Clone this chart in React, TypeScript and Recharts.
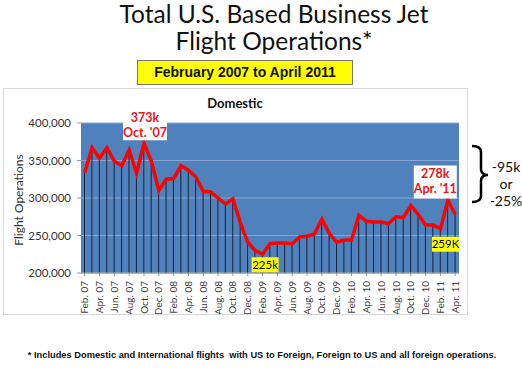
import React from "react";
import {
  Bar,
  CartesianGrid,
  ComposedChart,
  Line,
  ReferenceDot,
  XAxis,
  YAxis,
} from "recharts";

const months = [
  "Feb. 07", "Mar. 07", "Apr. 07", "May. 07", "Jun. 07", "Jul. 07", "Aug. 07", "Sep. 07", "Oct. 07", "Nov. 07", "Dec. 07",
  "Jan. 08", "Feb. 08", "Mar. 08", "Apr. 08", "May. 08", "Jun. 08", "Jul. 08", "Aug. 08", "Sep. 08", "Oct. 08", "Nov. 08", "Dec. 08",
  "Jan. 09", "Feb. 09", "Mar. 09", "Apr. 09", "May. 09", "Jun. 09", "Jul. 09", "Aug. 09", "Sep. 09", "Oct. 09", "Nov. 09", "Dec. 09",
  "Jan. 10", "Feb. 10", "Mar. 10", "Apr. 10", "May. 10", "Jun. 10", "Jul. 10", "Aug. 10", "Sep. 10", "Oct. 10", "Nov. 10", "Dec. 10",
  "Jan. 11", "Feb. 11", "Mar. 11", "Apr. 11",
];

const flightOps = [
  334000, 367000, 353000, 367000, 349000, 343000, 364000, 333000, 373000, 349000, 310000,
  325000, 326000, 343000, 337000, 328000, 309000, 308000, 300000, 292000, 299000, 267000, 241000,
  230000, 225000, 239000, 240000, 240000, 239000, 248000, 249000, 252000, 272000, 253000, 241000,
  244000, 244000, 277000, 269000, 268000, 268000, 266000, 275000, 274000, 290000, 278000, 264000,
  264000, 259000, 297000, 278000,
];

const yTicks = [200000, 250000, 300000, 350000, 400000];

const data = months.map((month, i) => ({ month, ops: flightOps[i] }));

const CAL = "Lato, 'Open Sans', sans-serif";
const ARIAL = "'Liberation Sans', Arial, sans-serif";

function XTick(props: { x?: number; y?: number; payload?: { value: string } }) {
  const { x = 0, y = 0, payload } = props;
  return (
    <text
      x={x}
      y={y}
      transform={`rotate(-90 ${x} ${y})`}
      textAnchor="end"
      dx={-3}
      dy={3.5}
      fontSize={10}
      fontFamily={CAL}
      fill="#404040"
    >
      {payload?.value}
    </text>
  );
}

// white box with red bold text, sitting above a point
function RedNote(props: { viewBox?: any; lines: string[]; dx: number; top: number; w: number; h: number }) {
  const vb = props.viewBox || {};
  const cx = vb.x + vb.width / 2 + props.dx;
  const cy = vb.y + vb.height / 2;
  return (
    <g>
      <rect x={cx - props.w / 2} y={cy + props.top} width={props.w} height={props.h} fill="#fff" />
      {props.lines.map((t, i) => (
        <text
          key={t}
          x={cx}
          y={cy + props.top + 12 + i * 15}
          textAnchor="middle"
          fontSize={12.5}
          fontWeight="bold"
          fontFamily={CAL}
          fill="#e8151b"
        >
          {t}
        </text>
      ))}
    </g>
  );
}

function YellowNote(props: { viewBox?: any; text: string; dx: number; top: number }) {
  const vb = props.viewBox || {};
  const cx = vb.x + vb.width / 2 + props.dx;
  const cy = vb.y + vb.height / 2;
  return (
    <g>
      <rect x={cx - 13.5} y={cy + props.top} width={27} height={15} fill="#ffff00" />
      <text
        x={cx}
        y={cy + props.top + 11.5}
        textAnchor="middle"
        fontSize={11.5}
        fontFamily={CAL}
        fill="#000"
      >
        {props.text}
      </text>
    </g>
  );
}

const titleStyle: React.CSSProperties = {
  position: "absolute",
  left: 0,
  width: 548,
  textAlign: "center",
  fontFamily: CAL,
  fontSize: 24.5,
  lineHeight: "24px",
  color: "#111",
  whiteSpace: "nowrap",
};

export default function App() {
  return (
    <div style={{ position: "absolute", left: 0, top: 0, width: 522, height: 368, background: "#fff", overflow: "hidden" }}>
      <div style={{ ...titleStyle, top: 2 }}>Total U.S. Based Business Jet</div>
      <div style={{ ...titleStyle, top: 29 }}>Flight Operations*</div>
      <div
        style={{
          position: "absolute",
          left: 137,
          top: 60,
          width: 214,
          height: 23,
          background: "#ffff00",
          border: "1px solid #777",
          fontFamily: ARIAL,
          fontWeight: "bold",
          fontSize: 14,
          lineHeight: "23px",
          textAlign: "center",
          color: "#111",
        }}
      >
        February 2007 to April 2011
      </div>
      <div style={{ position: "absolute", left: 3, top: 88, width: 463, height: 225, border: "1px solid #d9d9d9" }} />
      <div style={{ position: "absolute", left: 3, top: 88 }}>
        <ComposedChart width={464} height={226} data={data} margin={{ top: 35, right: 8, left: 18, bottom: 3 }}>
          <CartesianGrid horizontal vertical={false} fill="#4f81bd" stroke="#86a5d2" strokeWidth={1} />
          <XAxis
            dataKey="month"
            interval={1}
            tick={<XTick />}
            height={38}
            tickLine={{ stroke: "#999" }}
            tickSize={3}
            axisLine={{ stroke: "#999" }}
          />
          <YAxis
            domain={[200000, 400000]}
            ticks={yTicks}
            width={60}
            tickFormatter={(v: number) => v.toLocaleString("en-US")}
            tick={{ fontSize: 11.5, fontFamily: CAL, fill: "#333" }}
            tickLine={{ stroke: "#999" }}
            tickSize={4}
            tickMargin={6}
            axisLine={false}
          />
          <Bar dataKey="ops" barSize={1} fill="#1b2235" isAnimationActive={false} />
          <Line type="linear" dataKey="ops" stroke="#ff0000" strokeWidth={3.5} dot={false} isAnimationActive={false} />
          <ReferenceDot
            x="Oct. 07"
            y={373000}
            r={1}
            fill="none"
            stroke="none"
            label={{ content: (p: any) => <RedNote viewBox={p.viewBox} lines={["373k", "Oct. '07"]} dx={1} top={-33} w={44} h={30} /> }}
          />
          <ReferenceDot
            x="Apr. 11"
            y={278000}
            r={1}
            fill="none"
            stroke="none"
            label={{ content: (p: any) => <RedNote viewBox={p.viewBox} lines={["278k", "Apr. '11"]} dx={-20} top={-49} w={43} h={33} /> }}
          />
          <ReferenceDot
            x="Feb. 09"
            y={225000}
            r={1}
            fill="none"
            stroke="none"
            label={{ content: (p: any) => <YellowNote viewBox={p.viewBox} text="225k" dx={2.5} top={3} /> }}
          />
          <ReferenceDot
            x="Feb. 11"
            y={259000}
            r={1}
            fill="none"
            stroke="none"
            label={{ content: (p: any) => <YellowNote viewBox={p.viewBox} text="259K" dx={5} top={8} /> }}
          />
        </ComposedChart>
      </div>
      <div style={{ position: "absolute", left: 3, top: 88, width: 464, textAlign: "center", fontFamily: CAL, fontWeight: "bold", fontSize: 13, lineHeight: "30px", color: "#111" }}>
        Domestic
      </div>
      <div
        style={{
          position: "absolute",
          left: 18,
          top: 200,
          transform: "translate(-50%, -50%) rotate(-90deg)",
          fontFamily: CAL,
          fontSize: 12,
          color: "#333",
          whiteSpace: "nowrap",
        }}
      >
        Flight Operations
      </div>
      <svg style={{ position: "absolute", left: 0, top: 0 }} width={522} height={368}>
        <path d="M472 146 Q481 146 481 152 L481 169 Q481 175 488 175 Q481 175 481 181 L481 196 Q481 202 472 202" fill="none" stroke="#000" strokeWidth={2.5} />
      </svg>
      <div style={{ position: "absolute", left: 488, top: 158, width: 36, textAlign: "center", fontFamily: CAL, fontSize: 14, lineHeight: "17px", color: "#111", whiteSpace: "nowrap" }}>
        -95k
        <br />
        or
        <br />
        -25%
      </div>
      <div style={{ position: "absolute", left: 0, width: 524, top: 350, textAlign: "center", fontFamily: ARIAL, fontWeight: "bold", fontSize: 9.3, color: "#111", whiteSpace: "nowrap" }}>
        * Includes Domestic and International flights&nbsp; with US to Foreign, Foreign to US and all foreign operations.
      </div>
    </div>
  );
}
